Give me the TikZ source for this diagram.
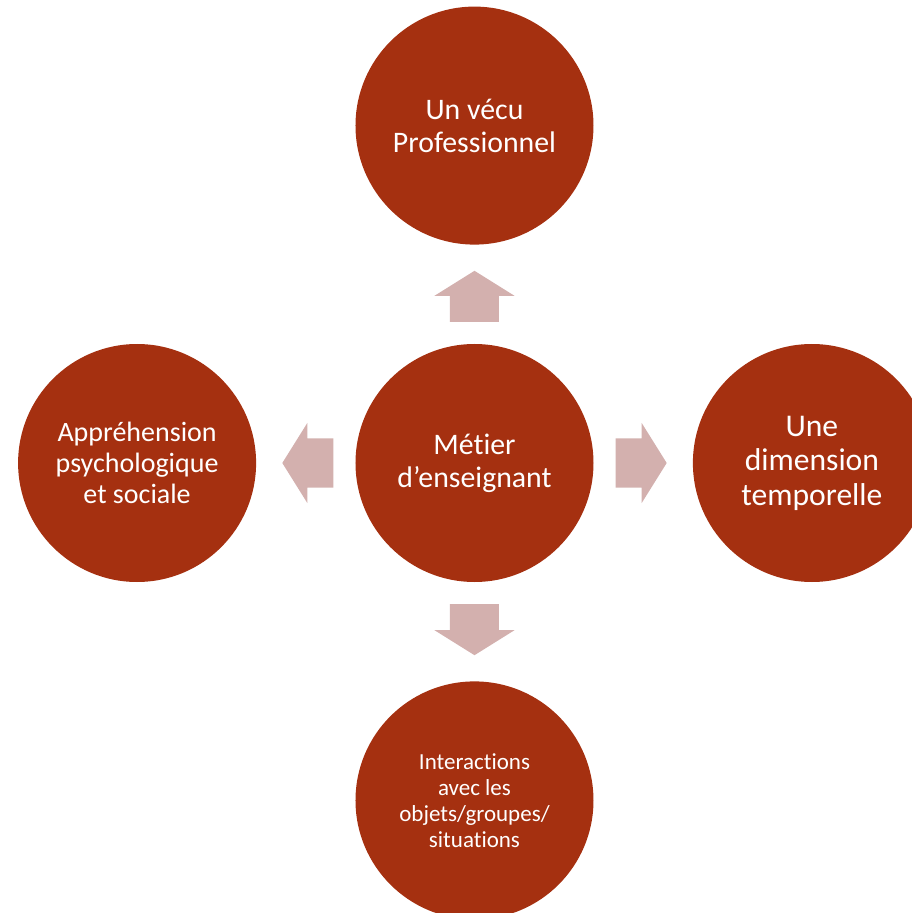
\documentclass[tikz,border=0pt]{standalone}
\usepackage{fontspec}
\setmainfont{Carlito}[Ligatures=NoCommon]
\usepackage{xcolor}
\usetikzlibrary{positioning}
\definecolor{rouille}{HTML}{A53010}
\definecolor{rosepale}{HTML}{D3B0AE}

\begin{document}
\begin{tikzpicture}[x=1pt,y=1pt,
  rond/.style={circle,fill=rouille,inner sep=0pt,minimum size=238pt,text=white,align=center,font=\fontsize{29.8}{33}\selectfont},
  fleche/.style={fill=rosepale},
  node distance=99pt]
\useasboundingbox (-474.5,-450) rectangle (437.5,463);
\node[rond] (metier) at (0,0) {Métier\\d’enseignant};
\node[rond,above=of metier] (vecu) {Un vécu\\Professionnel};
\node[rond,left=of metier,font=\fontsize{28}{31}\selectfont] (appr) {Appréhension\\psychologique\\et sociale};
\node[rond,right=of metier,font=\fontsize{31.6}{34.5}\selectfont] (temps) {Une\\dimension\\temporelle};
\node[rond,below=of metier,font=\fontsize{23}{26}\selectfont] (inter) {Interactions\\avec les\\objets/groupes/\\situations};
\fill[fleche] ([yshift=22pt]metier.north) ++(-24.5,0) -- ++(0,26) -- ++(-15.5,0) -- ++(40,25) -- ++(40,-25) -- ++(-15.5,0) -- ++(0,-26) -- cycle;
\fill[fleche] ([yshift=-22pt]metier.south) ++(-24.5,0) -- ++(0,-26) -- ++(-15.5,0) -- ++(40,-25) -- ++(40,25) -- ++(-15.5,0) -- ++(0,26) -- cycle;
\fill[fleche] ([xshift=-22pt]metier.west) ++(0,-24.5) -- ++(-26,0) -- ++(0,-15.5) -- ++(-25,40) -- ++(25,40) -- ++(0,-15.5) -- ++(26,0) -- cycle;
\fill[fleche] ([xshift=22pt]metier.east) ++(0,-24.5) -- ++(26,0) -- ++(0,-15.5) -- ++(25,40) -- ++(-25,40) -- ++(0,-15.5) -- ++(-26,0) -- cycle;
\end{tikzpicture}
\end{document}
